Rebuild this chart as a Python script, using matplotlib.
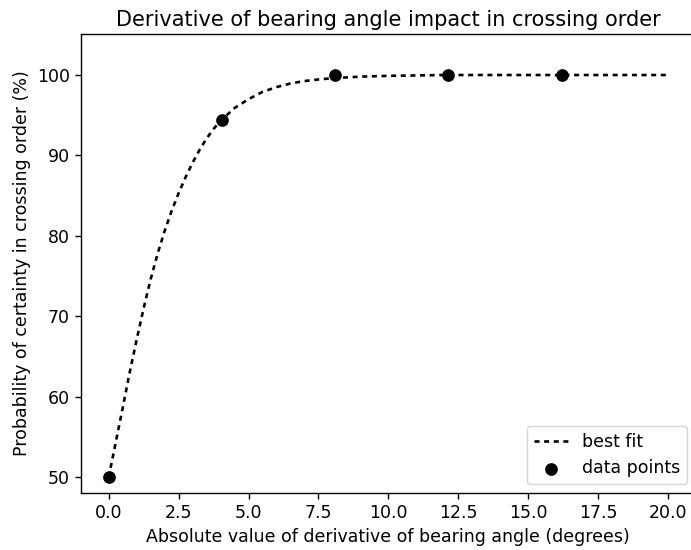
import matplotlib
matplotlib.use("Agg")
import matplotlib.pyplot as plt

# measured data points
x_points = [0.0, 4.05, 8.1, 12.15, 16.2]
y_points = [50.0, 94.4, 100.0, 100.0, 100.0]

# best fit curve
x_fit = [0.0, 0.25, 0.5, 0.75, 1.0, 1.25, 1.5, 1.75, 2.0, 2.25, 2.5, 2.75, 3.0, 3.25, 3.5,
         3.75, 4.0, 4.5, 5.0, 5.5, 6.0, 6.5, 7.0, 7.5, 8.0, 9.0, 10.0, 12.0, 14.0, 16.0, 18.0, 20.0]
y_fit = [50.0, 54.3, 58.6, 63.0, 67.1, 71.0, 74.6, 77.8, 80.6, 83.1, 85.3, 87.3, 89.1, 90.7, 92.1,
         93.3, 94.3, 95.9, 97.0, 97.9, 98.5, 98.95, 99.25, 99.45, 99.6, 99.8, 99.9, 100.0, 100.0, 100.0, 100.0, 100.0]

plt.rcParams["font.size"] = 12.5

fig = plt.figure(figsize=(6.91, 5.5), dpi=100)
ax = fig.add_axes([80.7 / 691, 1 - 493 / 550, (696 - 80.7) / 691, (493 - 34) / 550])

ax.plot(x_fit, y_fit, color="black", ls="--", dashes=(1.9, 1.75), lw=1.9, label="best fit")
ax.scatter(x_points, y_points, s=66, color="black", zorder=3, label="data points")

ax.set_xlim(-1.0, 21.0)
ax.set_ylim(48.05, 105.1)
ax.set_xticks([0, 2.5, 5, 7.5, 10, 12.5, 15, 17.5, 20])
ax.set_xticklabels(["0.0", "2.5", "5.0", "7.5", "10.0", "12.5", "15.0", "17.5", "20.0"])
ax.tick_params(length=4.4, width=1.0)
for s in ax.spines.values():
    s.set_linewidth(1.0)

ax.set_xlabel("Absolute value of derivative of bearing angle (degrees)")
ax.set_ylabel("Probability of certainty in crossing order (%)")
ax.set_title("Derivative of bearing angle impact in crossing order", fontsize=15)
ax.legend(loc="lower right")

fig.savefig("out.png", dpi=100)
